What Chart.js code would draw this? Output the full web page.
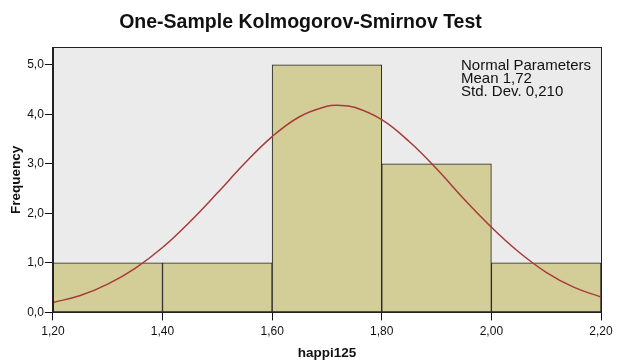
<!DOCTYPE html>
<html>
<head>
<meta charset="utf-8">
<script src="https://cdn.jsdelivr.net/npm/chart.js@4"></script>
<style>
  html, body { margin: 0; padding: 0; background: #fff; }
  #wrap { width: 621px; height: 363px; }
</style>
</head>
<body>
<div id="wrap"><canvas id="ksChart" width="621" height="363"></canvas></div>
<script>
// histogram bins (bin centres) and counts
const binCentres = [1.3, 1.5, 1.7, 1.9, 2.1];
const counts = [1, 1, 5, 3, 1];

// fitted normal curve
const curveX = [1.20, 1.25, 1.30, 1.35, 1.40, 1.45, 1.50, 1.55, 1.60, 1.65, 1.70, 1.72,
                1.75, 1.80, 1.85, 1.90, 1.95, 2.00, 2.05, 2.10, 2.15, 2.20];
const curveY = [0.20, 0.34, 0.57, 0.89, 1.31, 1.83, 2.41, 3.01, 3.55, 3.95, 4.16, 4.18,
                4.14, 3.89, 3.45, 2.90, 2.29, 1.72, 1.22, 0.81, 0.51, 0.31];

const xTicks = [1.2, 1.4, 1.6, 1.8, 2.0, 2.2];
const yTicks = [0, 1, 2, 3, 4, 5];
const infoLines = ['Normal Parameters', 'Mean 1,72', 'Std. Dev. 0,210'];

const fmt = (v, d) => v.toFixed(d).replace('.', ',');
const FONT = '"Liberation Sans", Arial, sans-serif';

const plotBox = {
  id: 'plotBox',
  beforeDraw(chart) {
    const a = chart.chartArea, c = chart.ctx;
    c.save();
    c.fillStyle = '#ebebeb';
    c.fillRect(a.left, a.top, a.right - a.left, a.bottom - a.top);
    c.restore();
  },
  afterDraw(chart) {
    const a = chart.chartArea, c = chart.ctx;
    c.save();
    c.strokeStyle = '#222';
    c.lineWidth = 1;
    c.strokeRect(Math.round(a.left) + 0.5, Math.round(a.top) + 0.5,
                 Math.round(a.right - a.left), Math.round(a.bottom - a.top));
    c.fillStyle = '#111';
    c.font = '15px ' + FONT;
    c.textBaseline = 'top';
    infoLines.forEach((t, i) => c.fillText(t, 461, 58 + i * 13));
    c.restore();
  }
};

new Chart(document.getElementById('ksChart'), {
  data: {
    datasets: [{
      type: 'line',
      data: curveX.map((x, i) => ({ x: x, y: curveY[i] })),
      borderColor: '#a83a3a',
      borderWidth: 1.5,
      pointRadius: 0,
      tension: 0.4,
      fill: false
    }, {
      type: 'bar',
      data: binCentres.map((x, i) => ({ x: x, y: counts[i] })),
      backgroundColor: '#d3ce98',
      borderColor: '#222',
      borderWidth: 1,
      borderSkipped: false,
      barPercentage: 1,
      categoryPercentage: 1
    }]
  },
  options: {
    responsive: false,
    animation: false,
    layout: { padding: { left: 0, right: 20, top: 0, bottom: 0 } },
    plugins: {
      legend: { display: false },
      tooltip: { enabled: false },
      title: {
        display: true,
        text: 'One-Sample Kolmogorov-Smirnov Test',
        color: '#111',
        font: { family: FONT, size: 19.5, weight: 'bold' },
        padding: { top: 11, bottom: 13 }
      }
    },
    scales: {
      x: {
        type: 'linear',
        offset: false,
        min: 1.2,
        max: 2.2,
        afterBuildTicks: s => { s.ticks = xTicks.map(v => ({ value: v })); },
        ticks: {
          color: '#111',
          font: { family: FONT, size: 12 },
          callback: v => fmt(v, 2),
          maxRotation: 0,
          padding: 4
        },
        grid: { offset: false, drawOnChartArea: false, drawTicks: true, tickLength: 8, color: '#111' },
        border: { color: '#222' },
        title: {
          display: true,
          text: 'happi125',
          color: '#111',
          font: { family: FONT, size: 13.5, weight: 'bold' },
          padding: { top: 2, bottom: 2 }
        }
      },
      y: {
        min: 0,
        max: 5.35,
        afterBuildTicks: s => { s.ticks = yTicks.map(v => ({ value: v })); },
        ticks: {
          color: '#111',
          font: { family: FONT, size: 12 },
          callback: v => fmt(v, 1),
          padding: 1
        },
        grid: { drawOnChartArea: false, drawTicks: true, tickLength: 8, color: '#111' },
        border: { color: '#222' },
        title: {
          display: true,
          text: 'Frequency',
          color: '#111',
          font: { family: FONT, size: 13.5, weight: 'bold' },
          padding: { top: 8, bottom: 2 }
        }
      }
    }
  },
  plugins: [plotBox]
});
</script>
</body>
</html>
